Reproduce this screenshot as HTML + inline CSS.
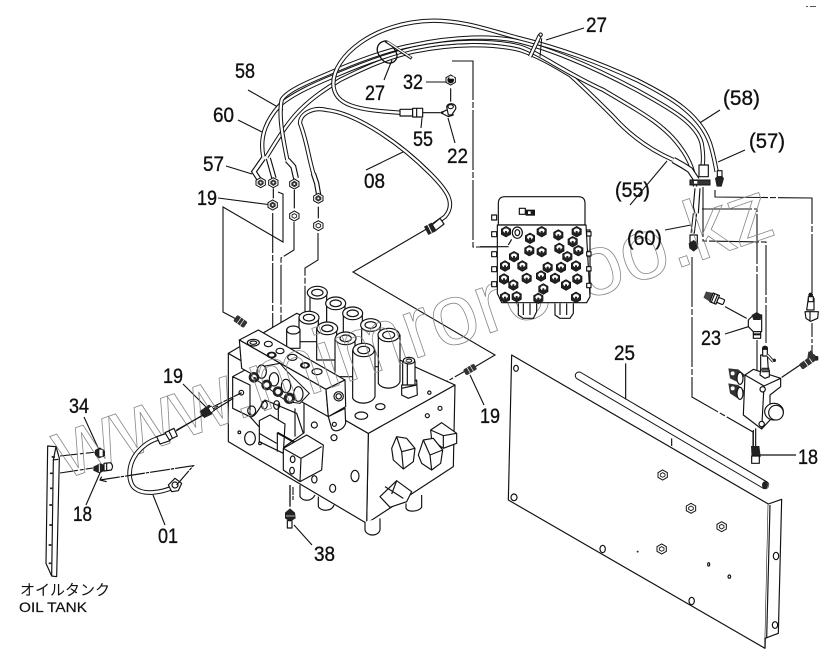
<!DOCTYPE html>
<html><head><meta charset="utf-8"><style>
html,body{margin:0;padding:0;background:#fff}
svg{display:block}
text{font-family:"Liberation Sans","Noto Sans CJK JP",sans-serif;fill:#111}
.n{font-size:21px;stroke:#111;stroke-width:.35}
.l{fill:none;stroke:#111;stroke-width:1.1}
.z{fill:none;stroke:#111;stroke-width:3.5}
.w{fill:#fff;stroke:#111;stroke-width:3.5;stroke-linejoin:round}
.k{fill:#1a1a1a;stroke:#111;stroke-width:2}
.a{fill:none;stroke:#111;stroke-width:13;stroke-linecap:butt}
.b{fill:none;stroke:#fff;stroke-width:7;stroke-linecap:butt}
.wm{font-size:86px;fill:none;stroke:#888;stroke-width:.8;font-family:"Liberation Sans",sans-serif}
</style></head><body>
<svg width="839" height="661" viewBox="0 0 839 661" xmlns="http://www.w3.org/2000/svg">
<defs>
<g id="cb"><polygon points="-14,-8 0,-16 14,-8 14,8 0,16 -14,8" fill="#222" stroke="#111" stroke-width="2"/><path d="M-9,-2A9,8 0 0 1 9,-2L5,3H-5Z" fill="#fff"/><circle cy="1" r="3.5" fill="#222"/></g>
<g id="nut"><polygon points="-14,-7 0,-15 14,-7 14,7 0,15 -14,7" fill="#fff" stroke="#111" stroke-width="3"/><polygon points="-9,-4 0,-10 9,-4 9,4 0,10 -9,4" fill="#333"/><circle r="3" fill="#fff"/></g>
<g id="hx"><polygon points="-14,-7 0,-15 14,-7 14,7 0,15 -14,7" fill="#fff" stroke="#111" stroke-width="3"/><polygon points="-7,-3 0,-7 7,-3 7,3 0,7 -7,3" fill="none" stroke="#111" stroke-width="2.5"/></g>
</defs>

<!-- Leaders -->
<g class="l">
<path d="M278,192L283,194V242L223,207V312L238,320"/>
<path d="M272.7,213V353" stroke-dasharray="40 2 6 2"/>
<path d="M294,222V250L281,258V353" stroke-dasharray="40 2 6 2"/>
<path d="M318,233V260L305,268V360" stroke-dasharray="50 2 6 2"/>
<path d="M218,198L272,205"/>
<path d="M430,227L353,272L495,355L473,368"/>
<path d="M467,370L430,391" stroke-dasharray="14 2 4 2"/>
<path d="M452,61H473V247H510" stroke-dasharray="60 2 6 2"/>
<path d="M426,82H449"/>
<path d="M715,190V197L812,198V293" stroke-dasharray="60 2 6 2"/>
<path d="M812,323V353" stroke-dasharray="14 2 4 2"/>
<path d="M703,187V241L766,242V343" stroke-dasharray="50 2 6 2"/>
<path d="M702,209H757V313" stroke-dasharray="50 2 6 2"/>
<path d="M757,340V370"/>
<path d="M692,257V397L753,432V447" stroke-dasharray="50 2 6 2"/>
<path d="M293,487V500" stroke-dasharray="8 1"/>
<path d="M294,525L312,545"/>
<path d="M218,406L176,431"/>
<path d="M183,384L206,407"/>
<path d="M84,417L100,452"/>
<path d="M100,473L86,505"/>
<path d="M153,495L165,525"/>
<path d="M470,375L484,405"/>
<path d="M60,456L97,452M60,473L93,468" stroke-dasharray="18 2 4 2"/>
<path d="M248,90L283,110"/>
<path d="M238,120L262,132"/>
<path d="M226,166L252,174"/>
<path d="M384,80L392,60"/>
<path d="M584,28L546,40"/>
<path d="M720,110L698,124"/>
<path d="M745,150L718,162"/>
<path d="M630,205L667,161"/>
<path d="M665,230L691,225"/>
<path d="M366,170L405,151"/>
<path d="M422,118L421,128"/>
<path d="M455,143L448,118"/>
</g>

<!-- Hoses (zoom-1 coordinates) -->
<g transform="translate(200,0) scale(.33333)">
<path class="a" d="M200,470C225,430 260,370 300,330C340,290 380,265 420,240C500,200 570,170 640,155C760,130 880,130 960,150C1020,170 1075,205 1110,225C1160,270 1200,310 1240,350C1280,395 1340,445 1420,480"/>
<path class="b" d="M200,470C225,430 260,370 300,330C340,290 380,265 420,240C500,200 570,170 640,155C760,130 880,130 960,150C1020,170 1075,205 1110,225C1160,270 1200,310 1240,350C1280,395 1340,445 1420,480"/>
<path class="a" d="M190,470C180,420 190,370 240,315C280,280 350,250 410,225C480,195 560,165 640,145C760,120 880,120 960,140C1020,160 1090,215 1210,270C1310,330 1390,370 1440,440C1470,480 1485,520 1485,560"/>
<path class="b" d="M190,470C180,420 190,370 240,315C280,280 350,250 410,225C480,195 560,165 640,145C760,120 880,120 960,140C1020,160 1090,215 1210,270C1310,330 1390,370 1440,440C1470,480 1485,520 1485,560"/>
<path class="a" d="M262,480C250,420 235,350 245,300C260,270 340,240 410,210C480,180 560,150 640,135C760,110 880,105 960,125C1040,145 1160,190 1310,270C1410,325 1490,370 1505,430C1510,460 1510,480 1508,495"/>
<path class="b" d="M262,480C250,420 235,350 245,300C260,270 340,240 410,210C480,180 560,150 640,135C760,110 880,105 960,125C1040,145 1160,190 1310,270C1410,325 1490,370 1505,430C1510,460 1510,480 1508,495"/>
<path class="a" d="M600,338C480,330 400,320 400,250C400,170 520,65 700,62C800,62 880,95 960,115C1040,135 1160,170 1310,240C1420,295 1500,345 1530,430C1540,460 1545,490 1550,515"/>
<path class="b" d="M600,338C480,330 400,320 400,250C400,170 520,65 700,62C800,62 880,95 960,115C1040,135 1160,170 1310,240C1420,295 1500,345 1530,430C1540,460 1545,490 1550,515"/>
<path class="a" d="M340,520C325,470 320,420 300,370C300,340 340,320 380,330C470,340 600,430 690,520C740,570 770,610 735,650L700,675"/>
<path class="b" d="M340,520C325,470 320,420 300,370C300,340 340,320 380,330C470,340 600,430 690,520C740,570 770,610 735,650L700,675"/>
<!-- straps -->
<path d="M560,122C530,125 525,150 540,170C555,195 580,195 590,175C595,160 580,135 555,125" fill="none" stroke="#111" stroke-width="4"/>
<path d="M560,125L635,175" stroke="#111" stroke-width="9"/><path d="M562,125L633,173" stroke="#fff" stroke-width="4"/>
<path d="M1020,105L990,170" stroke="#111" stroke-width="13"/><path d="M1020,105L990,170" stroke="#fff" stroke-width="7"/>
<path d="M1025,115L1020,170" stroke="#111" stroke-width="3"/>
<circle cx="1022" cy="104" r="5" fill="#fff" stroke="#111" stroke-width="3"/>
<!-- fittings left -->
<path d="M262,480L280,500L288,535" stroke="#111" stroke-width="18" fill="none"/><path d="M262,480L280,500L288,535" stroke="#fff" stroke-width="11" fill="none"/>
<path d="M340,520L350,550L356,585" stroke="#111" stroke-width="16" fill="none"/><path d="M340,520L350,550L356,585" stroke="#fff" stroke-width="9" fill="none"/>
<path d="M205,475L222,535" stroke="#111" stroke-width="16" fill="none"/><path d="M205,475L222,535" stroke="#fff" stroke-width="9" fill="none"/>
<path d="M190,475L162,515L185,550" stroke="#111" stroke-width="16" fill="none"/><path d="M190,475L162,515L185,550" stroke="#fff" stroke-width="9" fill="none"/>
<use href="#nut" x="283" y="552"/><use href="#nut" x="355" y="595"/><use href="#nut" x="220" y="548"/><use href="#nut" x="182" y="548"/>
<use href="#nut" x="218" y="615"/><use href="#hx" x="283" y="648"/><use href="#hx" x="355" y="677"/>
<path d="M283,570V625M355,620V655M220,565V595" class="z"/>
<!-- 55 fitting and elbow -->
<rect x="600" y="328" width="38" height="20" class="w"/><rect x="638" y="325" width="30" height="26" class="w"/><path d="M650,325V351" class="z"/>
<path d="M668,338H720" class="z"/>
<path d="M722,338L745,328L760,345L745,350Z" class="w"/><circle cx="726" cy="338" r="4" fill="#111"/>
<path d="M740,320A14,12 0 1 1 765,330L755,345H745Z" class="w"/><ellipse cx="752" cy="320" rx="8" ry="6" class="z"/>
<path d="M752,265V305" class="z"/>
<use href="#nut" x="752" y="240"/><circle cx="752" cy="240" r="10" fill="#111"/><rect x="748" y="230" width="14" height="6" fill="#fff"/>
<path d="M690,680L720,655L732,672L702,695Z" class="w"/><polygon points="672,680 695,668 710,692 685,705" fill="#222"/><path d="M682,672L695,698" stroke="#fff" stroke-width="3"/>
<!-- right end fittings -->
<path d="M1420,480L1450,497L1470,510L1490,540" stroke="#111" stroke-width="20" fill="none"/><path d="M1420,480L1450,497L1470,510L1490,540" stroke="#fff" stroke-width="13" fill="none"/>
<rect x="1497" y="495" width="28" height="35" class="w"/>
<path d="M1470,540H1530V555H1470Z" fill="#333" stroke="#111" stroke-width="3"/><rect x="1482" y="543" width="10" height="8" fill="#fff"/>
<polygon points="1545,535 1560,520 1572,535 1565,560 1550,560" fill="#222"/><rect x="1552" y="512" width="14" height="18" class="w"/>
<path d="M1485,565L1480,620L1485,640M1500,565L1495,640" class="z"/>
<path d="M1485,640L1478,700" class="a"/><path d="M1485,640L1478,700" class="b"/>
<rect x="1470" y="705" width="22" height="22" class="w"/><polygon points="1466,730 1481,720 1495,730 1493,745 1481,755 1468,745" fill="#222"/>
</g>

<!-- Main valve (zoom-3 coords) -->
<g transform="translate(200,270) scale(.33333)">
<path d="M505,490L765,345L760,590L500,760Z" class="w"/>
<path d="M85,250L505,490L500,760L85,515Z" class="w"/>
<path d="M85,250L290,130L765,345L505,490Z" class="w"/>
<!-- stubs -->
<path d="M495,755V780C500,800 535,800 540,780V745" class="w"/>
<path d="M618,700V715C625,728 655,725 665,712V675" class="w"/>
<path d="M355,680V710C365,725 395,725 402,705" class="w"/>
<path d="M300,645V680C310,695 335,695 345,675" class="w"/>
<!-- cylinders -->
<path d="M330,68V170H380V68Z" class="w"/><ellipse cx="352" cy="68" rx="30" ry="19" class="w"/><ellipse cx="352" cy="68" rx="17" ry="10" class="z"/>
<path d="M380,100V220H435V100Z" class="w"/><ellipse cx="407" cy="100" rx="30" ry="19" class="w"/><ellipse cx="407" cy="100" rx="17" ry="10" class="z"/>
<path d="M430,130V260H487V130Z" class="w"/><ellipse cx="458" cy="130" rx="30" ry="19" class="w"/><ellipse cx="458" cy="130" rx="17" ry="10" class="z"/>
<path d="M485,165V290H540V165Z" class="w"/><ellipse cx="512" cy="165" rx="30" ry="19" class="w"/><ellipse cx="512" cy="165" rx="17" ry="10" class="z"/>
<path d="M535,195V340C545,360 590,360 600,335V195Z" class="w"/><ellipse cx="566" cy="195" rx="32" ry="20" class="w"/><ellipse cx="566" cy="195" rx="18" ry="11" class="z"/>
<path d="M297,143V215H355V143Z" class="w"/><ellipse cx="327" cy="143" rx="30" ry="19" class="w"/><ellipse cx="327" cy="143" rx="17" ry="10" class="z"/>
<path d="M350,175V270H410V175Z" class="w"/><ellipse cx="382" cy="175" rx="31" ry="19" class="w"/><ellipse cx="382" cy="175" rx="17" ry="10" class="z"/>
<path d="M405,205V320H465V205Z" class="w"/><ellipse cx="437" cy="205" rx="31" ry="19" class="w"/><ellipse cx="437" cy="205" rx="17" ry="10" class="z"/>
<path d="M458,240V385C470,405 515,405 525,380V240Z" class="w"/><ellipse cx="491" cy="240" rx="32" ry="20" class="w"/><ellipse cx="491" cy="240" rx="18" ry="11" class="z"/>
<path d="M260,180H300V235H260Z" class="w"/><ellipse cx="280" cy="180" rx="20" ry="12" class="w"/>
<!-- relief cartridge -->
<path d="M605,345L650,330L652,375L625,385L605,375Z" class="w"/><path d="M608,275H645V345H608Z" class="w"/><path d="M605,355L650,345M622,275V345" class="z"/><ellipse cx="627" cy="272" rx="17" ry="10" class="w"/><ellipse cx="627" cy="272" rx="8" ry="5" class="z"/>
<!-- lower left plate -->
<path d="M150,440C165,445 180,410 195,390L290,430L310,490L240,540Z" class="w"/>
<path d="M98,320L150,345V440L98,415Z" class="w"/>
<circle cx="124" cy="368" r="7" class="z"/>
<path d="M98,320L135,300L190,330" class="z"/>
<ellipse cx="155" cy="422" rx="12" ry="14" class="z"/>
<ellipse cx="193" cy="405" rx="9" ry="12" class="z"/><ellipse cx="230" cy="405" rx="9" ry="13" class="z"/>
<path d="M235,400V500M285,415V500M312,400V490" class="z"/>
<!-- manifold top plate -->
<path d="M118,210L175,180L435,330L378,358Z" class="w"/>
<path d="M118,210L378,358L385,440L125,295Z" class="w"/>
<path d="M378,358L435,330L437,410L385,440Z" class="w"/>
<circle cx="416" cy="379" r="14" class="z"/><circle cx="416" cy="379" r="8" class="z"/>
<path d="M385,440L395,475C405,490 430,480 437,460L435,415Z" class="w"/><circle cx="403" cy="463" r="6" class="z"/>
<ellipse cx="160" cy="218" rx="18" ry="10" class="z"/><ellipse cx="160" cy="218" rx="10" ry="5" class="z"/>
<ellipse cx="205" cy="222" rx="12" ry="8" class="z"/><ellipse cx="215" cy="255" rx="14" ry="9" class="k"/><ellipse cx="215" cy="255" rx="8" ry="5" fill="#fff"/>
<ellipse cx="240" cy="243" rx="12" ry="8" class="z"/><ellipse cx="277" cy="262" rx="14" ry="9" class="z"/><ellipse cx="315" cy="286" rx="14" ry="9" class="k"/><ellipse cx="315" cy="286" rx="8" ry="5" fill="#fff"/><ellipse cx="351" cy="305" rx="15" ry="9" class="z"/>
<!-- banjo stack -->
<g>
<path d="M185,290L240,280L262,305L328,370L300,400L262,395L170,330Z" fill="#fff" stroke="#111" stroke-width="3"/>
<ellipse cx="185" cy="305" rx="14" ry="20" class="w"/><ellipse cx="222" cy="328" rx="14" ry="20" class="w"/><ellipse cx="258" cy="348" rx="14" ry="20" class="w"/><ellipse cx="295" cy="372" rx="14" ry="22" class="w"/>
<circle cx="162" cy="322" r="16" fill="#222"/><circle cx="162" cy="322" r="8" fill="#fff"/><circle cx="164" cy="325" r="4" fill="#222"/>
<circle cx="200" cy="345" r="16" fill="#222"/><circle cx="200" cy="345" r="8" fill="#fff"/>
<circle cx="234" cy="365" r="16" fill="#222"/><circle cx="234" cy="365" r="8" fill="#fff"/>
<circle cx="268" cy="385" r="17" fill="#222"/><circle cx="268" cy="385" r="8" fill="#fff"/>
</g>
<!-- solenoid boxes -->
<path d="M178,452L210,435L255,462L250,550L178,515Z" class="w"/><path d="M178,490L230,520" class="z"/><path d="M232,488L285,518" stroke="#111" stroke-width="6"/>
<path d="M232,488V545" class="z"/>
<path d="M250,535L320,495L370,525L365,600L300,635L250,600Z" class="w"/><path d="M250,535L303,565L365,530M303,565L300,635" class="z"/>
<ellipse cx="278" cy="568" rx="7" ry="10" class="z"/><ellipse cx="276" cy="602" rx="7" ry="10" class="z"/>
<!-- face details -->
<ellipse cx="150" cy="505" rx="16" ry="20" class="z"/><circle cx="118" cy="487" r="4" class="z"/><circle cx="180" cy="520" r="4" class="z"/>
<circle cx="343" cy="465" r="9" class="z"/><circle cx="402" cy="503" r="9" class="z"/><ellipse cx="465" cy="618" rx="12" ry="17" class="z"/><ellipse cx="398" cy="655" rx="9" ry="12" class="z"/><ellipse cx="343" cy="628" rx="8" ry="11" class="z"/>
<ellipse cx="484" cy="437" rx="19" ry="11" class="z"/><ellipse cx="541" cy="410" rx="14" ry="9" class="z"/><circle cx="688" cy="368" r="5" class="z"/><circle cx="720" cy="415" r="6" class="z"/><circle cx="682" cy="437" r="6" class="z"/>
<!-- hex plugs -->
<path d="M575,535L590,500L620,505L645,535L640,575L610,597L580,570Z" class="w"/><path d="M590,500L605,545L610,597M605,545L645,535" class="z"/>
<path d="M692,480L725,458L770,490L770,520L730,535L695,510Z" class="w"/><path d="M692,480L730,497L770,490M730,497L730,535" class="z"/>
<path d="M655,555L670,510L700,505L728,540L722,580L695,600L665,580Z" class="w"/><path d="M670,510L690,555L695,600M690,555L728,540" class="z"/>
<path d="M540,680L590,632L635,665L620,695L570,712Z" class="w"/><path d="M555,650L610,685M590,632L575,672" class="z"/>
<!-- fittings -->
<line x1="270" y1="645" x2="270" y2="710" stroke="#111" stroke-width="4"/>
<polygon points="255,728 270,715 285,728 287,745 270,755 255,745" fill="#222"/><rect x="262" y="752" width="14" height="22" class="w"/><path d="M258,738H284" stroke="#fff" stroke-width="2"/>
<g transform="translate(122,155) rotate(35)"><rect x="-20" y="-11" width="38" height="22" rx="5" fill="#333"/><path d="M-6,-11V11M5,-11V11" stroke="#fff" stroke-width="2"/></g>
<g transform="translate(811,298) rotate(-30)"><rect x="-20" y="-10" width="38" height="20" rx="5" fill="#333"/><path d="M-6,-10V10M5,-10V10" stroke="#fff" stroke-width="2"/></g>
<g transform="translate(20,422) rotate(-35)"><rect x="-20" y="-11" width="38" height="22" rx="5" fill="#222"/><path d="M-6,-11V11M5,-11V11" stroke="#fff" stroke-width="2"/></g>
<path d="M40,410L125,368" class="z" stroke-dasharray="30 4"/>
</g>

<!-- Watermark -->
<text class="wm" x="64.6" y="479.5" transform="rotate(-19 64.6 479.5)">www.mimrororoo.kz</text>

<!-- Control box (zoom-5 coords) -->
<g transform="translate(480,180) scale(.33333)">
<path d="M55,70Q55,50 75,50H295Q315,50 315,70V135H55Z" class="w"/>
<path d="M52,135H318L330,350L320,368H65L52,340Z" class="w"/>
<path d="M318,150L330,150V345" class="z"/>
<rect x="35" y="105" width="15" height="15" class="w"/><rect x="35" y="155" width="15" height="15" class="w"/><rect x="35" y="215" width="15" height="15" class="w"/><rect x="35" y="260" width="15" height="15" class="w"/><rect x="35" y="305" width="15" height="15" class="w"/>
<rect x="320" y="155" width="13" height="13" class="w"/><rect x="320" y="215" width="13" height="13" class="w"/><rect x="320" y="260" width="13" height="13" class="w"/><rect x="320" y="310" width="13" height="13" class="w"/>
<rect x="118" y="85" width="18" height="18" class="w"/><rect x="138" y="90" width="26" height="16" class="k"/><rect x="144" y="94" width="8" height="8" fill="#fff"/>
<path d="M115,370V405L130,415H160L170,395V370" class="w"/><path d="M130,370V405M150,370V405" class="z"/>
<path d="M225,370V405L240,415H270L280,400V370" class="w"/><path d="M240,370V405M260,370V405" class="z"/>
<ellipse cx="112" cy="158" rx="15" ry="17" class="w"/><ellipse cx="112" cy="158" rx="7" ry="9" class="z"/>
<use href="#cb" x="78" y="155"/><use href="#cb" x="150" y="175"/><use href="#cb" x="185" y="155"/><use href="#cb" x="235" y="165"/><use href="#cb" x="290" y="155"/><use href="#cb" x="278" y="185"/>
<use href="#cb" x="148" y="212"/><use href="#cb" x="185" y="215"/><use href="#cb" x="238" y="205"/><use href="#cb" x="295" y="212"/><use href="#cb" x="102" y="230"/><use href="#cb" x="262" y="230"/>
<use href="#cb" x="75" y="258"/><use href="#cb" x="127" y="258"/><use href="#cb" x="288" y="258"/><use href="#cb" x="203" y="262"/><use href="#cb" x="243" y="262"/>
<use href="#cb" x="72" y="297"/><use href="#cb" x="140" y="295"/><use href="#cb" x="183" y="288"/><use href="#cb" x="225" y="295"/><use href="#cb" x="292" y="297"/><use href="#cb" x="100" y="315"/><use href="#cb" x="258" y="315"/><use href="#cb" x="190" y="327"/>
<use href="#cb" x="75" y="352"/><use href="#cb" x="110" y="350"/><use href="#cb" x="175" y="355"/><use href="#cb" x="288" y="352"/>
<path d="M95,178L85,195" class="z"/>
<path d="M0,200H86" class="z"/>
</g>

<!-- Panel (zoom-6 coords) -->
<g transform="translate(490,340) scale(.33333)">
<path d="M65,45L835,492L825,925L55,480Z" class="w"/>
<path d="M835,492L875,478L865,880L825,895L825,925" class="w"/>
<path d="M840,495L830,895" class="z"/>
<ellipse cx="78" cy="85" rx="7" ry="9" class="z"/><ellipse cx="72" cy="472" rx="9" ry="10" class="z"/><ellipse cx="338" cy="627" rx="8" ry="11" class="z"/><ellipse cx="605" cy="783" rx="8" ry="11" class="z"/><ellipse cx="858" cy="648" rx="8" ry="11" class="z"/><ellipse cx="855" cy="855" rx="8" ry="10" class="z"/>
<circle cx="443" cy="635" r="3" fill="#333"/><ellipse cx="656" cy="673" rx="3" ry="5" class="z"/><ellipse cx="718" cy="710" rx="4" ry="5" class="z"/>
<use href="#hx" x="518" y="405"/><use href="#hx" x="603" y="505"/><use href="#hx" x="695" y="560"/><use href="#hx" x="515" y="627"/>
<path d="M267,107L825,435" stroke="#111" stroke-width="25" stroke-linecap="round"/><path d="M267,107L826,436" stroke="#fff" stroke-width="19" stroke-linecap="round"/>
<ellipse cx="825" cy="435" rx="9" ry="11" fill="#222"/>
<path d="M407,70V178M545,295V318M810,345H918" class="z"/>
<path d="M783,318H808L812,350L796,368L785,355Z" fill="#222"/><path d="M785,348H808V370H785Z" class="w"/>
<path d="M790,270V318M797,265V318" class="z"/>
</g>

<!-- Right valve (zoom-8 coords) -->
<g transform="translate(690,280) scale(.33333)">
<path d="M165,285L190,268L272,295L272,320L240,345V420L215,447L160,405Z" class="w"/>
<path d="M165,285L222,318L215,447M222,318L272,295" class="z"/>
<circle cx="218" cy="328" r="8" class="w"/><circle cx="215" cy="432" r="8" class="w"/>
<ellipse cx="252" cy="395" rx="28" ry="25" class="w"/><ellipse cx="258" cy="398" rx="22" ry="22" class="w"/>
<polygon points="115,265 145,268 165,285 150,310 120,295" fill="#333"/><circle cx="128" cy="280" r="6" fill="#fff"/><ellipse cx="150" cy="295" rx="9" ry="18" class="w"/>
<polygon points="115,310 145,315 165,335 150,360 120,340" fill="#333"/><circle cx="128" cy="325" r="6" fill="#fff"/><ellipse cx="150" cy="340" rx="9" ry="18" class="w"/>
<path d="M212,225L232,225L235,270H212Z" class="w"/><path d="M212,270H238L238,290L225,295L210,285Z" class="w"/><path d="M215,265H238M215,275H238" class="z"/>
<ellipse cx="225" cy="205" rx="8" ry="7" class="k"/><path d="M218,208V228H232V208Z" class="w"/>
<path d="M232,225L250,245" stroke="#111" stroke-width="9"/><path d="M232,225L250,245" stroke="#fff" stroke-width="4"/>
<circle cx="253" cy="241" r="5" fill="#222"/>
<!-- 23 -->
<path d="M175,120L190,105H215L215,155H190L175,140Z" class="w"/><polygon points="185,105 200,96 215,105 212,120 190,120" fill="#222"/><rect x="190" y="155" width="22" height="20" class="w"/><path d="M190,163H212" stroke="#111" stroke-width="6"/>
<g transform="translate(72,55) rotate(22)"><polygon points="-30,-10 -8,-14 -8,14 -30,10" fill="#444"/><rect x="-8" y="-14" width="20" height="28" class="w"/><path d="M-3,-14V14M6,-14V14" class="z"/><rect x="12" y="-8" width="20" height="16" rx="4" class="w"/></g>
<path d="M105,80L170,115M105,162L175,140M275,292L330,255" class="z"/>
<path d="M355,55L372,55L372,90L350,90Z" class="w"/><ellipse cx="362" cy="45" rx="6" ry="6" class="k"/><path d="M355,50H370V65H355Z" class="w"/><polygon points="345,95 385,95 383,115 362,124 348,115" class="w"/><path d="M360,95V122" class="z"/>
<g transform="translate(355,245) rotate(-35)"><rect x="-28" y="-10" width="56" height="20" rx="5" fill="#333"/><path d="M-8,-10V10M8,-10V10" stroke="#fff" stroke-width="2.5"/></g>
<path d="M362,212V232" class="z"/><polygon points="355,215 368,215 372,235 352,235" fill="#333"/><rect x="375" y="228" width="10" height="14" rx="3" fill="#222"/>
</g>

<!-- Left side (zoom-4 coords) -->
<g transform="translate(0,370) scale(.33333)">
<path d="M143,228L168,230L178,265L170,620L155,618L138,580Z" class="w"/>
<path d="M168,230L160,270L175,268M160,270L155,618" class="z"/>
<path d="M155,260L165,262M150,310H158M150,355H158M148,405H156M148,465H156M146,525H154M146,580H154" stroke="#222" stroke-width="5"/>
<path d="M410,250C380,290 385,340 405,355C430,375 480,370 525,350" stroke="#111" stroke-width="14" fill="none"/><path d="M410,250C380,290 385,340 405,355C430,375 480,370 525,350" stroke="#fff" stroke-width="8" fill="none"/>
<path d="M410,250C430,225 450,212 475,205" stroke="#111" stroke-width="14" fill="none"/><path d="M410,250C430,225 450,212 475,205" stroke="#fff" stroke-width="8" fill="none"/>
<path d="M470,200L500,190L510,212L480,222Z" class="w"/><polygon points="495,188 522,175 532,198 508,210" class="w"/><path d="M506,182L518,206" class="z"/>
<polygon points="505,345 525,325 545,340 535,362 515,365" class="w"/><circle cx="525" cy="345" r="9" class="z"/>
<polygon points="285,240 300,232 315,243 315,258 297,265 285,255" fill="#222"/><rect x="297" y="238" width="12" height="22" fill="#fff" stroke="#111" stroke-width="2"/>
<polygon points="280,290 300,280 315,285 315,302 298,310 280,302" fill="#222"/><path d="M312,280L332,278Q342,288 334,300L312,303Z" class="w"/>
<path d="M320,280V303" class="z"/><path d="M298,283V306" stroke="#fff" stroke-width="3"/>
<path d="M305,320L300,330L320,335" class="z"/>
<g transform="translate(622,125) rotate(-30)"><polygon points="-18,-12 8,-14 16,-6 16,6 8,14 -18,12" fill="#222"/><rect x="8" y="-8" width="12" height="16" fill="#fff" stroke="#111" stroke-width="2"/></g>
<path d="M530,180L610,135" class="z"/>
<path d="M640,122L700,85" class="z"/>
<path d="M300,330L580,287L530,345" class="z" stroke-dasharray="60 3 10 3"/>
</g>

<!-- Labels -->
<text class="n" x="586" y="32" textLength="21" lengthAdjust="spacingAndGlyphs">27</text>
<text class="n" x="365" y="100" textLength="20" lengthAdjust="spacingAndGlyphs">27</text>
<text class="n" x="403" y="89" textLength="20" lengthAdjust="spacingAndGlyphs">32</text>
<text class="n" x="235" y="78" textLength="20" lengthAdjust="spacingAndGlyphs">58</text>
<text class="n" x="213" y="122" textLength="21" lengthAdjust="spacingAndGlyphs">60</text>
<text class="n" x="413" y="146" textLength="20" lengthAdjust="spacingAndGlyphs">55</text>
<text class="n" x="447" y="163" textLength="21" lengthAdjust="spacingAndGlyphs">22</text>
<text class="n" x="203" y="171" textLength="21" lengthAdjust="spacingAndGlyphs">57</text>
<text class="n" x="364" y="188" textLength="21" lengthAdjust="spacingAndGlyphs">08</text>
<text class="n" x="197" y="205" textLength="20" lengthAdjust="spacingAndGlyphs">19</text>
<text class="n" x="723" y="105" textLength="37" lengthAdjust="spacingAndGlyphs">(58)</text>
<text class="n" x="749" y="148" textLength="36" lengthAdjust="spacingAndGlyphs">(57)</text>
<text class="n" x="615" y="197" textLength="35" lengthAdjust="spacingAndGlyphs">(55)</text>
<text class="n" x="627" y="245" textLength="35" lengthAdjust="spacingAndGlyphs">(60)</text>
<text class="n" x="701" y="345" textLength="20" lengthAdjust="spacingAndGlyphs">23</text>
<text class="n" x="614" y="360" textLength="21" lengthAdjust="spacingAndGlyphs">25</text>
<text class="n" x="798" y="464" textLength="20" lengthAdjust="spacingAndGlyphs">18</text>
<text class="n" x="480" y="423" textLength="20" lengthAdjust="spacingAndGlyphs">19</text>
<text class="n" x="163" y="383" textLength="20" lengthAdjust="spacingAndGlyphs">19</text>
<text class="n" x="69" y="413" textLength="20" lengthAdjust="spacingAndGlyphs">34</text>
<text class="n" x="73" y="521" textLength="19" lengthAdjust="spacingAndGlyphs">18</text>
<text class="n" x="158" y="543" textLength="20" lengthAdjust="spacingAndGlyphs">01</text>
<text class="n" x="314" y="561" textLength="21" lengthAdjust="spacingAndGlyphs">38</text>
<text x="20" y="595" style="font-size:15px" textLength="90">オイルタンク</text>
<text x="19" y="612" style="font-size:14px;stroke:#111;stroke-width:.2" textLength="68" lengthAdjust="spacingAndGlyphs">OIL TANK</text>
<path d="M806,6h2v1h-2zM810,6h6v1h-6z" fill="#555"/>
</svg>
</body></html>
